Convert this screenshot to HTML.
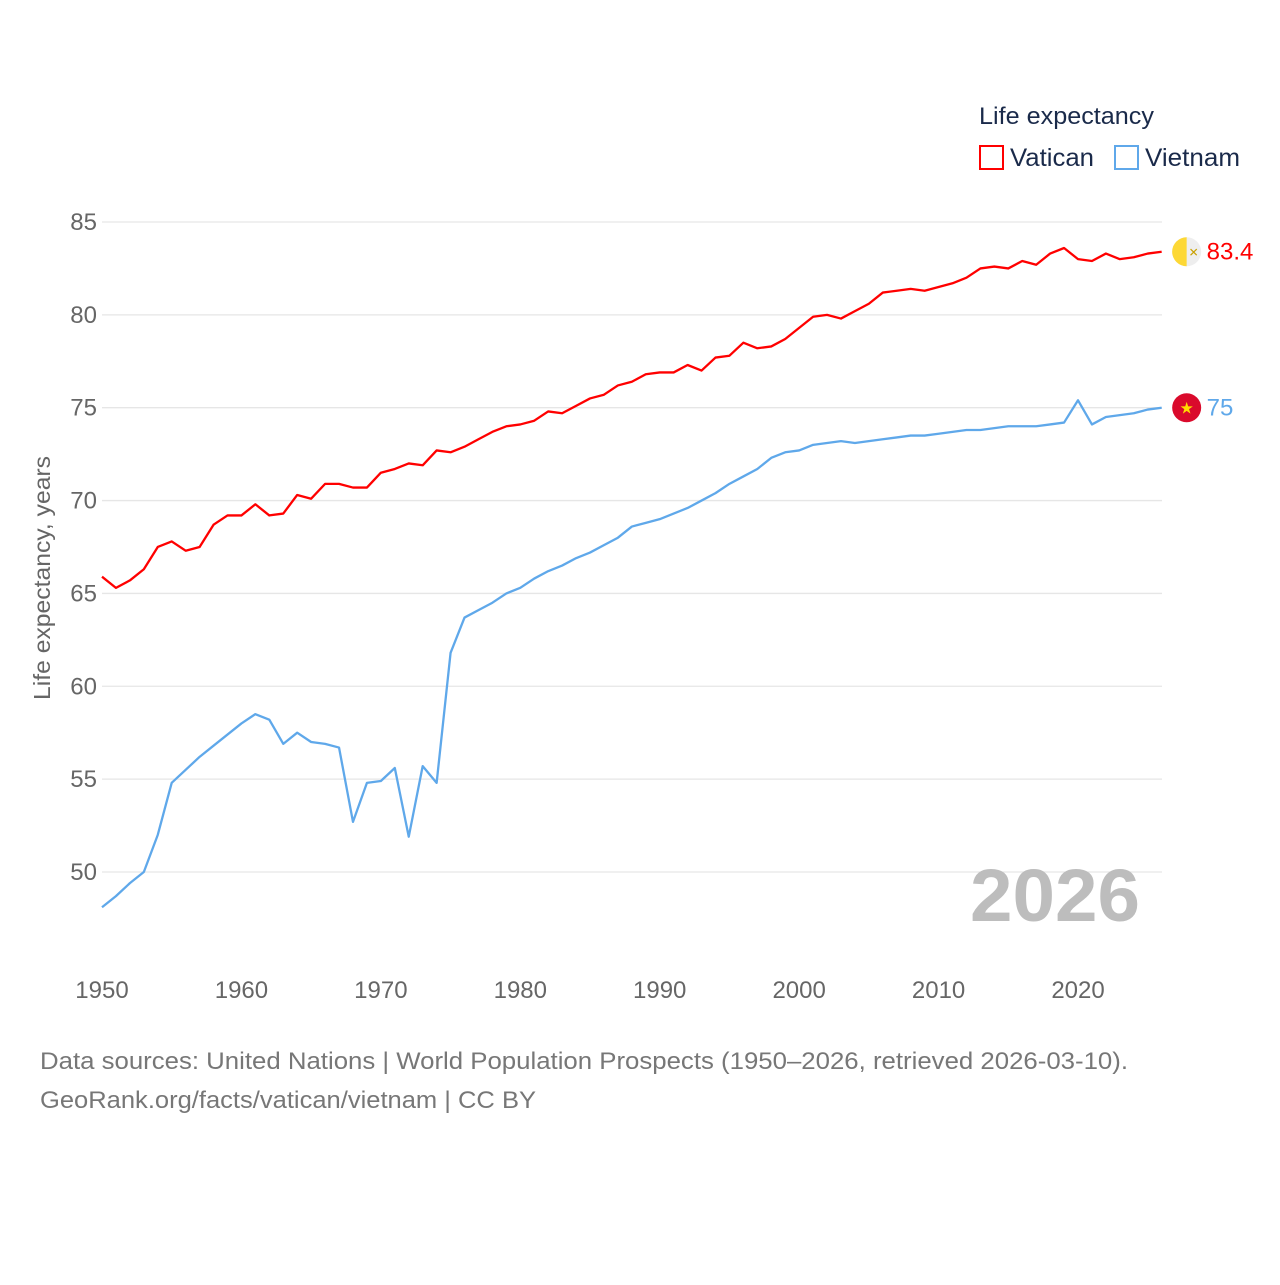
<!DOCTYPE html>
<html><head><meta charset="utf-8"><style>
body{margin:0;background:#fff;font-family:"Liberation Sans",sans-serif}
svg text{font-family:"Liberation Sans",sans-serif}
</style></head><body>
<svg width="1280" height="1280" viewBox="0 0 1280 1280">
<g id="grid"></g>
<g id="yt"></g>
<g id="xt"></g>
<text transform="translate(50,578) rotate(-90)" text-anchor="middle" font-size="23" fill="#666" textLength="244" lengthAdjust="spacingAndGlyphs">Life expectancy, years</text>
<text x="970" y="921" font-size="74" font-weight="bold" fill="#bdbdbd" textLength="170" lengthAdjust="spacingAndGlyphs">2026</text>
<g id="series"></g>
<g>
<text x="979" y="124" font-size="24" fill="#1a2a4a" textLength="175" lengthAdjust="spacingAndGlyphs">Life expectancy</text>
<g><rect x="980" y="146" width="23" height="23" fill="none" stroke="#f00" stroke-width="2"/><text x="1010" y="166" font-size="25" fill="#1a2a4a" textLength="84" lengthAdjust="spacingAndGlyphs">Vatican</text></g>
<g><rect x="1115" y="146" width="23" height="23" fill="none" stroke="#5fa8ea" stroke-width="2"/><text x="1145" y="166" font-size="25" fill="#1a2a4a" textLength="95" lengthAdjust="spacingAndGlyphs">Vietnam</text></g>
</g>
<text x="40" y="1069" font-size="24" fill="#777" textLength="1088" lengthAdjust="spacingAndGlyphs">Data sources: United Nations | World Population Prospects (1950–2026, retrieved 2026-03-10).</text>
<text x="40" y="1108" font-size="24" fill="#777" textLength="496" lengthAdjust="spacingAndGlyphs">GeoRank.org/facts/vatican/vietnam | CC BY</text>
</svg>
<script>
const years=[];for(let y=1950;y<=2026;y++)years.push(y);
const vatican=[65.9,65.3,65.7,66.3,67.5,67.8,67.3,67.5,68.7,69.2,69.2,69.8,69.2,69.3,70.3,70.1,70.9,70.9,70.7,70.7,71.5,71.7,72.0,71.9,72.7,72.6,72.9,73.3,73.7,74.0,74.1,74.3,74.8,74.7,75.1,75.5,75.7,76.2,76.4,76.8,76.9,76.9,77.3,77.0,77.7,77.8,78.5,78.2,78.3,78.7,79.3,79.9,80.0,79.8,80.2,80.6,81.2,81.3,81.4,81.3,81.5,81.7,82.0,82.5,82.6,82.5,82.9,82.7,83.3,83.6,83.0,82.9,83.3,83.0,83.1,83.3,83.4];
const vietnam=[48.1,48.7,49.4,50.0,52.0,54.8,55.5,56.2,56.8,57.4,58.0,58.5,58.2,56.9,57.5,57.0,56.9,56.7,52.7,54.8,54.9,55.6,51.9,55.7,54.8,61.8,63.7,64.1,64.5,65.0,65.3,65.8,66.2,66.5,66.9,67.2,67.6,68.0,68.6,68.8,69.0,69.3,69.6,70.0,70.4,70.9,71.3,71.7,72.3,72.6,72.7,73.0,73.1,73.2,73.1,73.2,73.3,73.4,73.5,73.5,73.6,73.7,73.8,73.8,73.9,74.0,74.0,74.0,74.1,74.2,75.4,74.1,74.5,74.6,74.7,74.9,75.0];
const yTicks=[50,55,60,65,70,75,80,85];
const xTicks=[1950,1960,1970,1980,1990,2000,2010,2020];
const X=v=>102+(v-1950)*13.943;
const Y=v=>222+(85-v)*18.571;
const NS='http://www.w3.org/2000/svg';
function mk(t,a,p){const e=document.createElementNS(NS,t);for(const k in a)e.setAttribute(k,a[k]);p.appendChild(e);return e;}
const grid=document.getElementById('grid'),yt=document.getElementById('yt'),xt=document.getElementById('xt'),ser=document.getElementById('series');
yTicks.forEach(v=>{
 const l=mk('line',{x1:102,x2:1162,y1:Y(v),y2:Y(v),stroke:'#e6e6e6','stroke-width':1.3},grid);
 
 
 const t=mk('text',{x:97,y:Y(v)+8,'text-anchor':'end','font-size':24,fill:'#666'},yt);t.textContent=v;
 
 
});
xTicks.forEach(v=>{
 const t=mk('text',{x:X(v),y:998,'text-anchor':'middle','font-size':24,fill:'#666'},xt);t.textContent=v;
 
 
});
function line(data,color,name){
 const p=mk('polyline',{points:data.map((v,i)=>X(years[i])+','+Y(v)).join(' '),fill:'none',stroke:color,'stroke-width':2.3,'stroke-linejoin':'round'},ser);
 
 
}
line(vatican,'#f00','vatican-line');
line(vietnam,'#5fa8ea','vietnam-line');
const lv=vatican[vatican.length-1],lt=vietnam[vietnam.length-1],fx=X(2026)+25;
const g1=mk('g',{},ser);


mk('circle',{cx:fx,cy:Y(lv),r:14.5,fill:'#eee'},g1);
mk('path',{d:`M${fx},${Y(lv)-14.5} A14.5,14.5 0 0 0 ${fx},${Y(lv)+14.5} Z`,fill:'#fdd835'},g1);
mk('text',{x:fx+2,y:Y(lv)+5,'font-size':12,fill:'#c9a000'},g1).textContent='✕';
const t1=mk('text',{x:fx+20,y:Y(lv)+8,'font-size':24,fill:'#f00'},ser);t1.textContent=lv.toFixed(1);


const g2=mk('g',{},ser);


mk('circle',{cx:fx,cy:Y(lt),r:14.5,fill:'#da0a2c'},g2);
mk('text',{x:fx,y:Y(lt)+6,'text-anchor':'middle','font-size':16,fill:'#ffdd00'},g2).textContent='★';
const t2=mk('text',{x:fx+20,y:Y(lt)+8,'font-size':24,fill:'#5fa8ea'},ser);t2.textContent=String(lt%1===0?lt.toFixed(0):lt);


</script>
</body></html>
